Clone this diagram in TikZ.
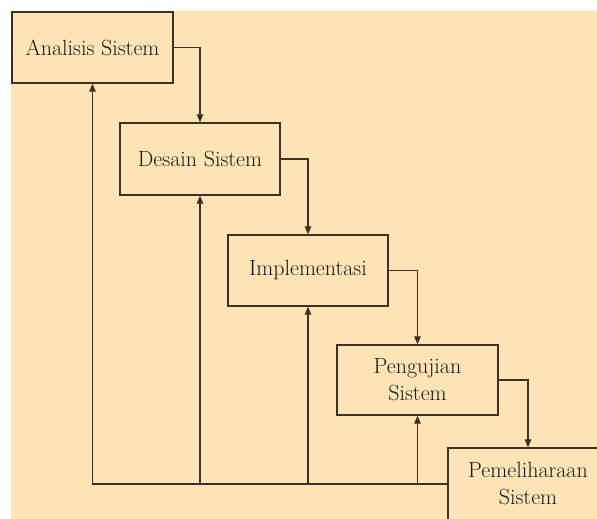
\documentclass[tikz,border=0pt]{standalone}
\usepackage{fontspec}
\usetikzlibrary{arrows.meta}
\definecolor{paper}{RGB}{253,228,182}
\definecolor{ink}{RGB}{62,48,34}
\tikzset{
  phase/.style={draw=ink,line width=1.3pt,fill=paper,text=black!90,
    align=center,font=\fontsize{22}{27}\selectfont,inner sep=0pt},
  flow/.style={ink,line width=1.2pt,-{Triangle[length=8pt,width=6.5pt]}}
}
\begin{document}
\begin{tikzpicture}[x=1pt,y=-1pt]
\useasboundingbox(0,0)rectangle(597,519);
\fill[paper](11,11)rectangle(597,519);
%phases
\node[phase,minimum width=161,minimum height=71](analisis)at(92.5,47.5){Analisis Sistem};
\node[phase,minimum width=160,minimum height=72](desain)at(200,159){Desain Sistem};
\node[phase,minimum width=160,minimum height=71](impl)at(308,270.5){Implementasi};
\node[phase,minimum width=161,minimum height=70](uji)at(417.5,380){Pengujian\\Sistem};
\node[phase,minimum width=160,minimum height=72](pelihara)at(528,484){Pemeliharaan\\Sistem};
%forward
\draw[flow](analisis.east)-|(desain.north);
\draw[flow](desain.east)-|(impl.north);
\draw[flow](impl.east)-|(uji.north);
\draw[flow](uji.east)-|(pelihara.north);
%feedback
\draw[flow](pelihara.west)-|(analisis.south);
\draw[flow](desain.south|-pelihara.west)--(desain.south);
\draw[flow](impl.south|-pelihara.west)--(impl.south);
\draw[flow](uji.south|-pelihara.west)--(uji.south);
\end{tikzpicture}
\end{document}
